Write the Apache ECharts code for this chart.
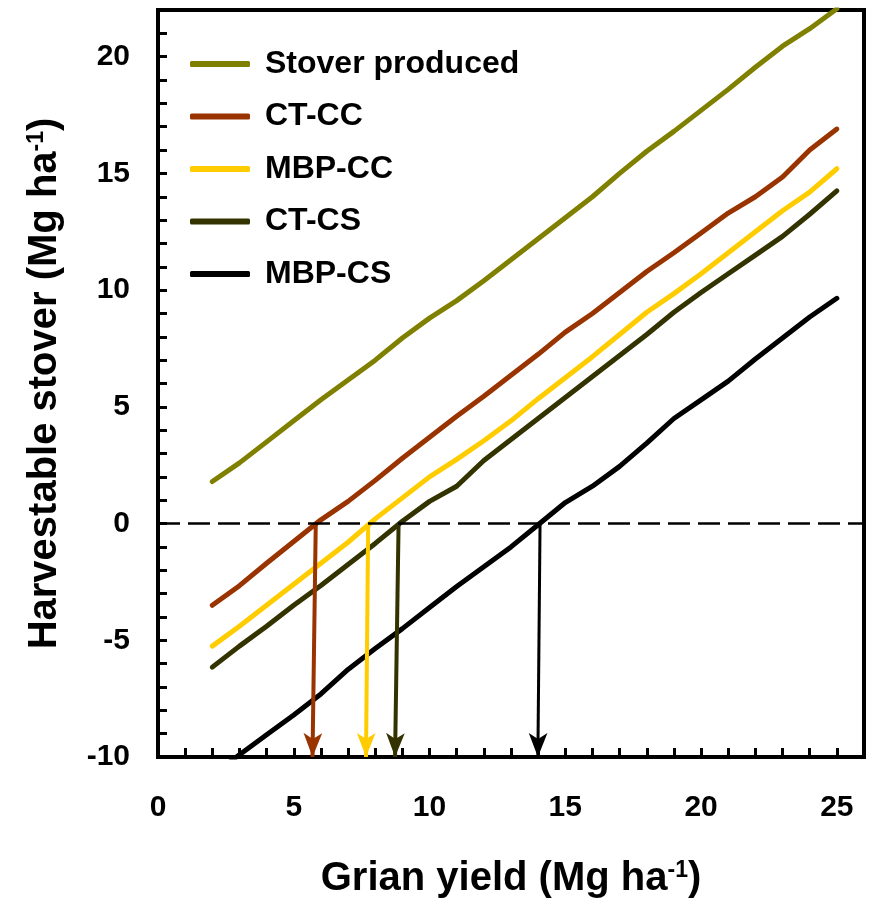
<!DOCTYPE html>
<html>
<head>
<meta charset="utf-8">
<script src="https://cdn.jsdelivr.net/npm/echarts@6/dist/echarts.min.js"></script>
<style>
  html, body { margin: 0; padding: 0; background: #fff; }
  #chart { width: 869px; height: 898px; }
</style>
</head>
<body>
<div id="chart"></div>
<script>
// ---- Data ----
const grainYield = [2, 3, 4, 5, 6, 7, 8, 9, 10, 11, 12, 13, 14, 15, 16, 17, 18, 19, 20, 21, 22, 23, 24, 25];

const stoverProduced = [1.8, 2.6, 3.5, 4.4, 5.3, 6.15, 7.0, 7.95, 8.8, 9.55, 10.4, 11.3, 12.2, 13.1, 14.0, 15.0, 15.95, 16.8, 17.7, 18.6, 19.55, 20.45, 21.2, 22.05];
const ctCC = [-3.5, -2.66, -1.7, -0.77, 0.16, 0.95, 1.85, 2.8, 3.7, 4.6, 5.45, 6.35, 7.25, 8.2, 9.0, 9.9, 10.8, 11.6, 12.45, 13.3, 14.0, 14.85, 16.0, 16.9];
const mbpCC = [-5.25, -4.4, -3.5, -2.6, -1.7, -0.8, 0.2, 1.1, 2.0, 2.75, 3.55, 4.4, 5.35, 6.25, 7.15, 8.1, 9.05, 9.85, 10.7, 11.6, 12.5, 13.4, 14.2, 15.2];
const ctCS = [-6.15, -5.25, -4.4, -3.5, -2.65, -1.75, -0.85, 0.1, 0.95, 1.6, 2.7, 3.6, 4.5, 5.4, 6.3, 7.2, 8.1, 9.05, 9.9, 10.7, 11.5, 12.3, 13.25, 14.25];
const mbpCS = [-10.8, -9.9, -9.05, -8.2, -7.3, -6.25, -5.35, -4.5, -3.6, -2.7, -1.85, -1.0, -0.05, 0.9, 1.6, 2.45, 3.45, 4.5, 5.3, 6.1, 7.05, 7.95, 8.85, 9.65];

const seriesNames = ['Stover produced', 'CT-CC', 'MBP-CC', 'CT-CS', 'MBP-CS'];
const seriesColors = ['#808000', '#993300', '#FFCC00', '#333300', '#000000'];

// break-even arrows (x at y=0 -> x at y=-10), for CT-CC, MBP-CC, CT-CS, MBP-CS
const arrowTopX = [5.81, 7.74, 8.86, 14.07];
const arrowBottomX = [5.69, 7.66, 8.73, 13.99];
const arrowTopY = 0;
const arrowBottomY = -10;

const xTickLabels = [0, 5, 10, 15, 20, 25];
const yTickLabels = [-10, -5, 0, 5, 10, 15, 20];

// ---- Chart ----
const FONT = "'Liberation Sans', Arial, sans-serif";
const allValues = [stoverProduced, ctCC, mbpCC, ctCS, mbpCS];

function pairs(vals) { return grainYield.map((x, i) => [x, vals[i]]); }

const series = allValues.map((vals, i) => {
  const s = {
    name: seriesNames[i],
    type: 'line',
    data: pairs(vals),
    showSymbol: false,
    symbol: 'none',
    lineStyle: { color: seriesColors[i], width: 5, cap: 'round', join: 'round' },
    itemStyle: { color: seriesColors[i] },
    z: 3
  };
  if (i > 0) {
    const k = i - 1;
    s.markLine = {
      silent: true,
      animation: false,
      symbol: ['none', 'arrow'],
      symbolSize: [14, 24],
      label: { show: false },
      lineStyle: { color: seriesColors[i], width: i === 4 ? 3 : 4, type: 'solid' },
      data: [[{ coord: [arrowTopX[k], arrowTopY] }, { coord: [arrowBottomX[k], arrowBottomY] }]]
    };
  }
  return s;
});

series.push({
  name: 'zero',
  type: 'line',
  data: [],
  markLine: {
    silent: true,
    animation: false,
    symbol: ['none', 'none'],
    label: { show: false },
    lineStyle: { color: '#000', width: 2.5, type: [22, 8] },
    data: [{ yAxis: 0 }]
  },
  z: 2
});

const chart = echarts.init(document.getElementById('chart'), null, { renderer: 'canvas' });
chart.setOption({
  animation: false,
  backgroundColor: '#fff',
  textStyle: { fontFamily: FONT },
  grid: {
    left: 158, right: 5, top: 10, bottom: 141,
    containLabel: false,
    outerBoundsMode: 'none',
    show: true, borderColor: '#000', borderWidth: 4, backgroundColor: 'transparent'
  },
  legend: {
    data: seriesNames,
    orient: 'vertical',
    left: 190,
    top: 48,
    padding: 0,
    itemWidth: 60,
    itemHeight: 6,
    itemGap: 20.5,
    icon: 'roundRect',
    selectedMode: false,
    textStyle: { fontFamily: FONT, fontSize: 32, fontWeight: 'bold', color: '#000', lineHeight: 32, padding: [0, 0, 0, 10] }
  },
  xAxis: {
    type: 'value',
    min: 0, max: 26, interval: 1,
    name: 'Grian yield (Mg ha{sup|-1})',
    nameLocation: 'middle',
    nameGap: 102,
    nameTextStyle: {
      fontFamily: FONT, fontSize: 40, fontWeight: 'bold', color: '#000',
      rich: { sup: { fontFamily: FONT, fontSize: 23, fontWeight: 'bold', color: '#000', verticalAlign: 'top' } }
    },
    axisLine: { show: true, onZero: false, lineStyle: { color: '#000', width: 4 } },
    axisTick: { show: true, inside: true, length: 9, lineStyle: { color: '#000', width: 3 } },
    splitLine: { show: false },
    axisLabel: {
      margin: 36, fontFamily: FONT, fontSize: 30, fontWeight: 'bold', color: '#000',
      showMaxLabel: false,
      formatter: v => (xTickLabels.indexOf(v) >= 0 ? String(v) : '')
    }
  },
  yAxis: {
    type: 'value',
    min: -10, max: 22, interval: 1,
    name: 'Harvestable stover (Mg ha{sup|-1})',
    nameLocation: 'middle',
    nameGap: 93,
    nameTextStyle: {
      fontFamily: FONT, fontSize: 40, fontWeight: 'bold', color: '#000',
      rich: { sup: { fontFamily: FONT, fontSize: 23, fontWeight: 'bold', color: '#000', verticalAlign: 'top' } }
    },
    axisLine: { show: true, onZero: false, lineStyle: { color: '#000', width: 4 } },
    axisTick: { show: true, inside: true, length: 9, lineStyle: { color: '#000', width: 3 } },
    splitLine: { show: false },
    axisLabel: {
      margin: 28, fontFamily: FONT, fontSize: 30, fontWeight: 'bold', color: '#000',
      showMaxLabel: false,
      formatter: v => (yTickLabels.indexOf(v) >= 0 ? String(v) : '')
    }
  },
  series: series
});
</script>
</body>
</html>
